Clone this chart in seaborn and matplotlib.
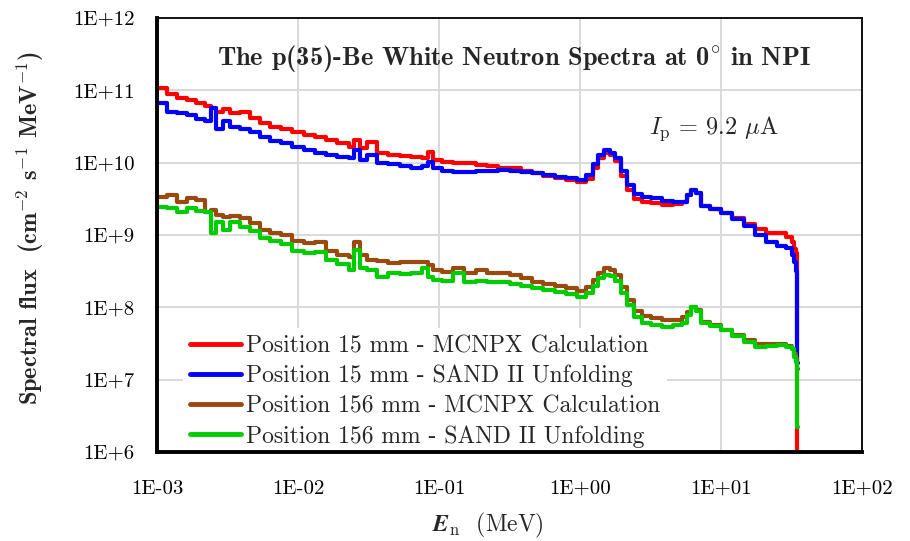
import numpy as np
import pandas as pd
import matplotlib
matplotlib.use("Agg")
import matplotlib.pyplot as plt
import seaborn as sns

# ---- data (log10 values) ----
log_energy = [-3.00, -2.93, -2.86, -2.79, -2.72, -2.66, -2.62, -2.58, -2.53, -2.48,
              -2.41, -2.34, -2.27, -2.20, -2.12, -2.04, -1.96, -1.88, -1.80, -1.72,
              -1.64, -1.60, -1.56, -1.51, -1.44, -1.36, -1.28, -1.20, -1.12, -1.08,
              -1.04, -0.98, -0.90, -0.82, -0.74, -0.66, -0.58, -0.50, -0.42, -0.34,
              -0.26, -0.18, -0.10, -0.02, 0.04, 0.09, 0.13, 0.17, 0.21, 0.25,
              0.29, 0.33, 0.38, 0.44, 0.50, 0.58, 0.66, 0.72, 0.76, 0.79,
              0.82, 0.86, 0.92, 1.00, 1.08, 1.16, 1.24, 1.32, 1.40, 1.46,
              1.50, 1.52, 1.53, 1.54, 1.545]

log_p15_mcnpx = [11.03, 10.95, 10.90, 10.86, 10.83, 10.78, 10.75, 10.70, 10.74, 10.68,
                 10.70, 10.62, 10.55, 10.50, 10.46, 10.42, 10.38, 10.35, 10.31, 10.27,
                 10.22, 10.31, 10.20, 10.28, 10.13, 10.11, 10.09, 10.08, 10.07, 10.15,
                 10.04, 10.01, 10.00, 9.99, 9.97, 9.95, 9.93, 9.92, 9.88, 9.86,
                 9.82, 9.79, 9.76, 9.73, 9.78, 9.92, 10.06, 10.13, 10.10, 10.02,
                 9.82, 9.62, 9.50, 9.45, 9.44, 9.42, 9.43, 9.46, 9.55, 9.62,
                 9.58, 9.40, 9.36, 9.31, 9.24, 9.15, 9.08, 9.03, 9.03, 8.97,
                 8.90, 8.80, 8.75, 5.50, 5.50]

log_p15_sand = [10.82, 10.70, 10.69, 10.66, 10.60, 10.58, 10.75, 10.47, 10.58, 10.50,
                10.47, 10.42, 10.36, 10.30, 10.27, 10.21, 10.18, 10.14, 10.11, 10.08,
                10.06, 10.18, 10.04, 10.10, 10.00, 9.98, 9.95, 9.93, 9.95, 10.01,
                9.93, 9.88, 9.87, 9.87, 9.88, 9.89, 9.90, 9.88, 9.87, 9.86,
                9.83, 9.80, 9.79, 9.76, 9.83, 9.98, 10.10, 10.17, 10.14, 10.06,
                9.88, 9.69, 9.57, 9.52, 9.51, 9.47, 9.45, 9.46, 9.55, 9.62,
                9.58, 9.40, 9.36, 9.30, 9.22, 9.12, 9.00, 8.90, 8.85, 8.82,
                8.72, 8.62, 8.50, 7.23, 7.23]

log_p156_mcnpx = [9.52, 9.55, 9.46, 9.51, 9.48, 9.32, 9.34, 9.28, 9.25, 9.26,
                  9.23, 9.16, 9.07, 9.03, 9.00, 8.92, 8.89, 8.90, 8.78, 8.72,
                  8.70, 8.90, 8.72, 8.65, 8.64, 8.61, 8.63, 8.62, 8.63, 8.58,
                  8.51, 8.49, 8.54, 8.48, 8.51, 8.47, 8.47, 8.45, 8.40, 8.35,
                  8.32, 8.29, 8.27, 8.22, 8.28, 8.38, 8.48, 8.54, 8.52, 8.45,
                  8.28, 8.10, 7.95, 7.88, 7.85, 7.82, 7.83, 7.86, 7.93, 8.00,
                  7.96, 7.80, 7.76, 7.69, 7.62, 7.55, 7.50, 7.50, 7.50, 7.46,
                  7.42, 7.35, 7.28, 7.15, 7.15]

log_p156_sand = [9.39, 9.38, 9.32, 9.37, 9.33, 9.32, 9.03, 9.18, 9.07, 9.18,
                 9.11, 9.06, 8.96, 8.92, 8.87, 8.78, 8.75, 8.76, 8.66, 8.60,
                 8.51, 8.79, 8.55, 8.51, 8.42, 8.47, 8.46, 8.47, 8.54, 8.42,
                 8.38, 8.37, 8.47, 8.35, 8.36, 8.35, 8.35, 8.32, 8.29, 8.27,
                 8.24, 8.21, 8.19, 8.14, 8.20, 8.30, 8.40, 8.45, 8.43, 8.37,
                 8.20, 8.03, 7.87, 7.78, 7.76, 7.73, 7.75, 7.79, 7.90, 8.00,
                 7.95, 7.78, 7.74, 7.68, 7.60, 7.52, 7.45, 7.46, 7.48, 7.45,
                 7.42, 7.32, 7.25, 6.34, 6.34]

series_names = ["Position 15 mm - MCNPX Calculation",
                "Position 15 mm - SAND II Unfolding",
                "Position 156 mm - MCNPX Calculation",
                "Position 156 mm - SAND II Unfolding"]
series_colors = ["#ff0000", "#0000ff", "#9a4a0e", "#00cc00"]
x_tick_labels = ["1E-03", "1E-02", "1E-01", "1E+00", "1E+01", "1E+02"]
y_tick_labels = ["1E+6", "1E+7", "1E+8", "1E+9", "1E+10", "1E+11", "1E+12"]

# ---- build table ----
energy = 10.0 ** np.array(log_energy)
frames = []
for name, vals in zip(series_names, [log_p15_mcnpx, log_p15_sand, log_p156_mcnpx, log_p156_sand]):
    frames.append(pd.DataFrame({"E": energy, "flux": 10.0 ** np.array(vals), "series": name}))
df = pd.concat(frames, ignore_index=True)

sns.set_theme(style="white")
plt.rcParams["font.family"] = ["cmr10", "DejaVu Serif"]
plt.rcParams["mathtext.fontset"] = "cm"
plt.rcParams["axes.unicode_minus"] = False

fig = plt.figure(figsize=(9.10, 5.41), dpi=100)
ax = fig.add_axes([157 / 910, 1 - 452 / 541, (862 - 157) / 910, (452 - 18) / 541])

sns.lineplot(data=df, x="E", y="flux", hue="series", hue_order=series_names,
             palette=series_colors, drawstyle="steps-post", linewidth=3.0,
             ax=ax, legend=True, estimator=None, sort=False, zorder=3)

ax.set_xscale("log")
ax.set_yscale("log")
ax.set_xlim(1e-3, 1e2)
ax.set_ylim(1e6, 1e12)

xt = [10.0 ** k for k in range(-3, 3)]
yt = [10.0 ** k for k in range(6, 13)]
ax.set_xticks(xt)
ax.set_xticklabels(x_tick_labels, fontsize=15)
ax.set_yticks(yt)
ax.set_yticklabels(y_tick_labels, fontsize=15)
ax.xaxis.set_minor_locator(matplotlib.ticker.LogLocator(base=10, subs=np.arange(2, 10)))
ax.yaxis.set_minor_locator(matplotlib.ticker.LogLocator(base=10, subs=np.arange(2, 10)))
ax.xaxis.set_minor_formatter(matplotlib.ticker.NullFormatter())
ax.yaxis.set_minor_formatter(matplotlib.ticker.NullFormatter())

ax.grid(True, which="major", color="#d9d9d9", linewidth=1.4, zorder=0)
ax.set_axisbelow(True)

ax.tick_params(axis="x", which="major", direction="out", length=6, width=2.2, colors="black", pad=14)
ax.tick_params(axis="x", which="minor", direction="out", length=4, width=1.8, colors="black")
ax.tick_params(axis="y", which="major", direction="inout", length=8, width=2.2, colors="black", pad=12)
ax.tick_params(axis="y", which="minor", direction="inout", length=6, width=1.8, colors="black")
ax.tick_params(labelcolor="black")

for s in ["left", "bottom"]:
    ax.spines[s].set_visible(True)
    ax.spines[s].set_color("black")
    ax.spines[s].set_linewidth(2.8)
    ax.spines[s].set_zorder(10)
for s in ["top", "right"]:
    ax.spines[s].set_visible(True)
    ax.spines[s].set_color("black")
    ax.spines[s].set_linewidth(1.3)

ax.set_xlabel(r"$\mathbfit{E}_{\mathrm{n}}$  (MeV)", fontsize=17)
ax.xaxis.set_label_coords(0.47, -0.135)
ax.set_ylabel(r"Spectral flux  (cm$^{\mathbf{-2}}$ s$^{\mathbf{-1}}$ MeV$^{\mathbf{-1}}$)",
              fontsize=17.5, family=["cmb10", "DejaVu Serif"])
ax.yaxis.set_label_coords(-0.158, 0.516)

ax.text(0.507, 0.906, r"The p(35)-Be White Neutron Spectra at 0$^{\circ}$ in NPI",
        transform=ax.transAxes, ha="center", va="center", fontsize=19,
        family=["cmb10", "DejaVu Serif"])
ax.text(0.79, 0.746, r"$I_{\mathrm{p}}$ = 9.2 $\mu$A", transform=ax.transAxes,
        ha="center", va="center", fontsize=17.5, family=["cmr10", "DejaVu Serif"])

leg = ax.legend(loc="lower left", bbox_to_anchor=(0.037, -0.006), frameon=True, fontsize=17,
                handlelength=2.15, handletextpad=0.2, labelspacing=0.33, borderpad=0.3,
                borderaxespad=0.0)
leg.get_frame().set_facecolor("white")
leg.get_frame().set_edgecolor("none")
leg.get_frame().set_alpha(1.0)
leg.set_zorder(2.5)
for h in leg.get_lines():
    h.set_linewidth(3.5)

fig.savefig("out.png", dpi=100, facecolor="white")
